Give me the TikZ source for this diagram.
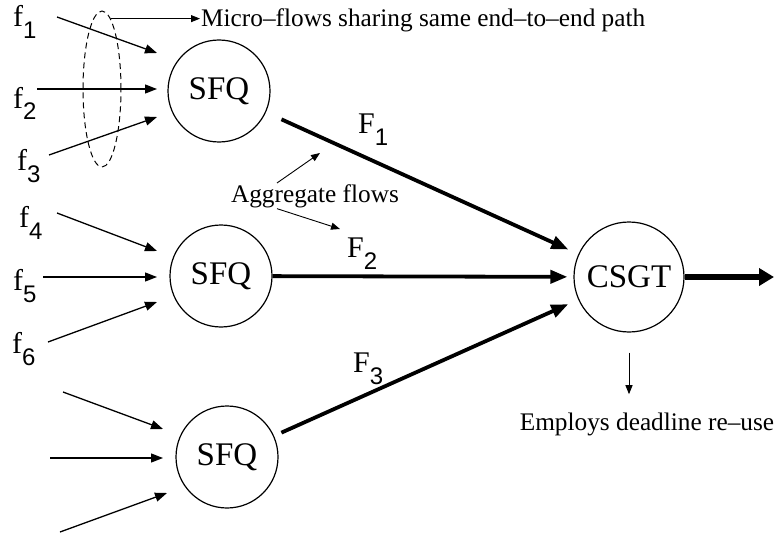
\documentclass[tikz,border=0pt]{standalone}
\usepackage{fontspec}
\setmainfont{Liberation Serif}
\setsansfont{Liberation Sans}
\usepackage{tikz}
\usetikzlibrary{arrows.meta, shapes.geometric, calc}

\newcommand{\flowname}[2]{#1\raisebox{-12pt}{\sffamily\fontsize{24}{24}\selectfont #2}}

\tikzset{
  queue/.style={draw=black, circle, inner sep=0pt, minimum size=102pt, line width=1.2pt, font=\fontsize{33}{33}\selectfont},
  sched/.style={queue, minimum size=110pt},
  micro/.style={-{Triangle[length=12pt,width=9pt]}, line width=1.3pt},
  aggr/.style={-{Triangle[length=17pt,width=13pt]}, line width=3.8pt},
  note/.style={-{Triangle[length=9pt,width=7pt]}, line width=0.9pt},
  lab/.style={anchor=base west, inner sep=0pt, font=\fontsize{30}{30}\selectfont},
  txt/.style={inner sep=1pt, font=\fontsize{25.3}{25.3}\selectfont}
}

\begin{document}
\begin{tikzpicture}[x=1pt, y=-1pt]
\useasboundingbox (0,0) rectangle (777,535);

\node [queue] (sfq_1) at (219,91) {SFQ};
\node [queue] (sfq_2) at (221,276) {SFQ};
\node [queue] (sfq_3) at (227,457) {SFQ};
\node [sched] (csgt) at (629,277) {CSGT};

\node [lab] (f_1) at (13,27) {\flowname{f}{1}};
\node [lab] (f_2) at (13,108) {\flowname{f}{2}};
\node [lab] (f_3) at (17,170) {\flowname{f}{3}};
\node [lab] (f_4) at (19,227) {\flowname{f}{4}};
\node [lab] (f_5) at (13,290) {\flowname{f}{5}};
\node [lab] (f_6) at (12,353) {\flowname{f}{6}};

\node [lab] (F_1) at (358,133) {\flowname{F}{1}};
\node [lab] (F_2) at (347,257) {\flowname{F}{2}};
\node [lab] (F_3) at (353,372) {\flowname{F}{3}};

% micro-flow group
\node [draw=black, dashed, dash pattern=on 6pt off 4pt, line width=1pt, ellipse, inner sep=0pt, minimum width=38pt, minimum height=156pt] (group) at (102,89) {};

\node [txt, anchor=base west] (micro) at (200,27) {Micro--flows sharing same end--to--end path};
\node [txt, anchor=base] (agg) at (315,202) {Aggregate flows};
\node [txt, anchor=base] (employ) at (647,430) {Employs deadline re--use};

% inputs
\coordinate (in_1) at (57,17);   \coordinate (tip_1) at (157,53);
\coordinate (in_2) at (37,89);   \coordinate (tip_2) at (157,89);
\coordinate (in_3) at (49,155);  \coordinate (tip_3) at (157,117);
\coordinate (in_4) at (57,213);  \coordinate (tip_4) at (157,251);
\coordinate (in_5) at (43,277);  \coordinate (tip_5) at (157,277);
\coordinate (in_6) at (48,342);  \coordinate (tip_6) at (157,302);
\coordinate (in_7) at (63,392);  \coordinate (tip_7) at (163,429);
\coordinate (in_8) at (50,458);  \coordinate (tip_8) at (163,458);
\coordinate (in_9) at (60,532);  \coordinate (tip_9) at (167,493);

\draw[micro] (in_1)--(tip_1);
\draw[micro] (in_2)--(tip_2);
\draw[micro] (in_3)--(tip_3);
\draw[micro] (in_4)--(tip_4);
\draw[micro] (in_5)--(tip_5);
\draw[micro] (in_6)--(tip_6);
\draw[micro] (in_7)--(tip_7);
\draw[micro] (in_8)--(tip_8);
\draw[micro] (in_9)--(tip_9);

% aggregates
\draw[aggr, shorten <=17pt, shorten >=11pt] (sfq_1)--(csgt);
\draw[aggr, shorten >=6pt] (sfq_2)--(csgt);
\draw[aggr, shorten <=8pt, shorten >=11pt] (sfq_3)--(csgt);

\coordinate (out) at (774,277);
\draw[-{Triangle[length=15pt,width=17pt]}, line width=6.5pt] (csgt)--(out);

% notes
\coordinate (agg_1) at (320,153);
\coordinate (agg_2) at (340,229);
\draw[note] (group.83)--(group.83 -| micro.west);
\draw[note] ([xshift=-38pt]agg.north)--(agg_1);
\draw[note] ([xshift=-38pt]agg.south)--(agg_2);
\draw[note, shorten <=20pt, shorten >=17pt] (csgt.south)--(csgt.south |- employ.north);

\end{tikzpicture}
\end{document}
